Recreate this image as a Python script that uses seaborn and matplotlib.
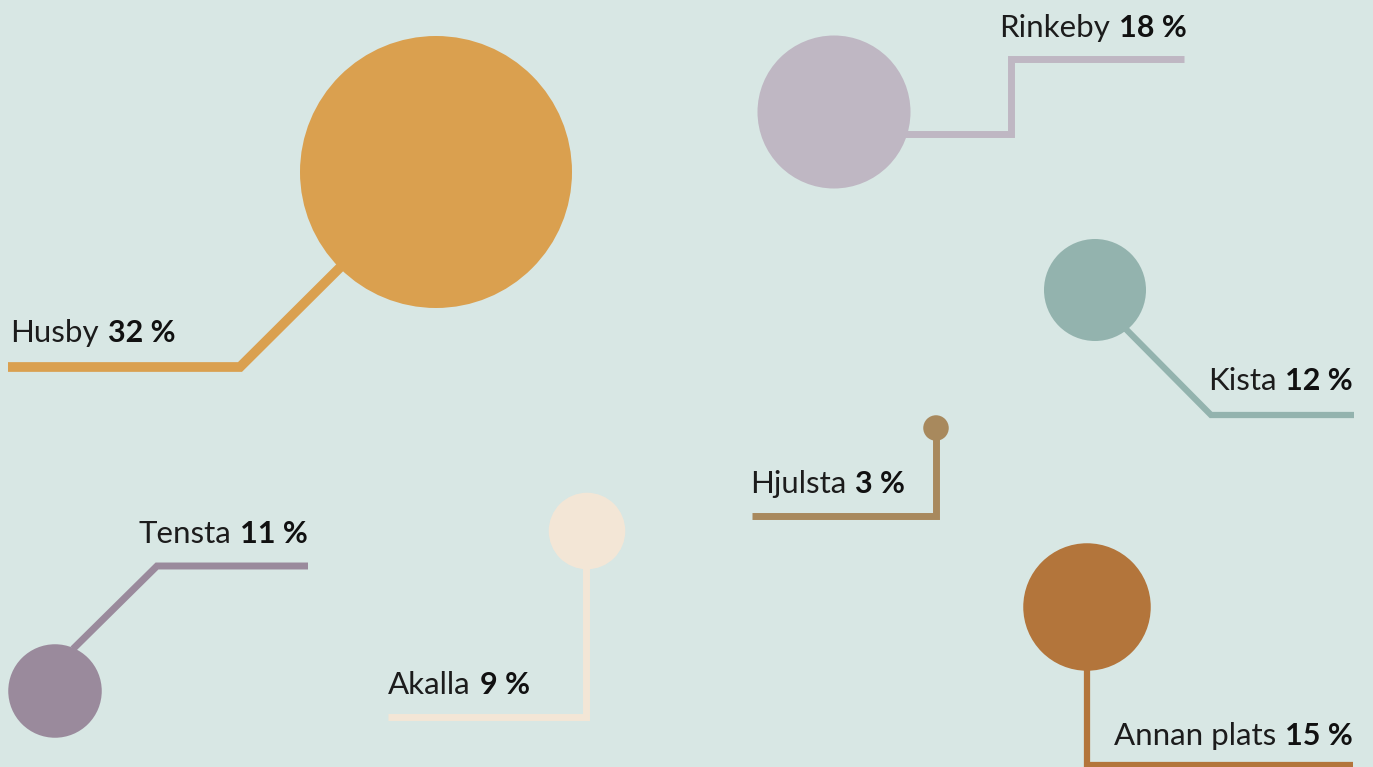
import pandas as pd
import seaborn as sns
import matplotlib.pyplot as plt

# share of respondents per area (%)
areas = ['Husby', 'Rinkeby', 'Kista', 'Hjulsta', 'Tensta', 'Akalla', 'Annan plats']
shares = [32, 18, 12, 3, 11, 9, 15]
colors = ['#DAA04F', '#BFB7C3', '#93B3AE', '#A8895D', '#9A8A9C', '#F3E6D6', '#B3753B']

# layout (pixel coordinates of the canvas, y down)
cx = [436, 834, 1095, 936, 55, 587, 1087]
cy = [172, 112, 290, 428, 691, 531, 607]
# (anchor side, x, baseline y)
label_pos = [('left', 10, 342), ('right', 1187, 37), ('right', 1353, 390), ('left', 750, 493),
             ('right', 308, 543), ('left', 388, 694), ('right', 1353, 745)]
leaders = [
    [(436, 172), (240, 367), (8, 367)],
    [(880, 134), (1011, 134), (1011, 59), (1184, 59)],
    [(1105, 308), (1211, 415), (1354, 415)],
    [(936, 428), (936, 516), (752, 516)],
    [(73, 649), (157, 566), (308, 566)],
    [(586, 531), (586, 717), (388, 717)],
    [(1087, 607), (1087, 765), (1353, 765)],
]
leader_w = [7, 5, 4.5, 5, 5, 5, 4.5]

W, H, DPI = 1373, 767, 100
PX_PER_PCT = 4.25  # bubble radius in px per percent
GAP = 9

df = pd.DataFrame({'area': areas, 'share': shares, 'x': cx, 'y': cy})
# marker area in pt^2 so that the diameter is 2*r px
sizes = {a: (2 * PX_PER_PCT * v * 72 / DPI) ** 2 for a, v in zip(areas, shares)}

sns.set_theme(style='white', rc={'axes.facecolor': '#D8E7E4', 'figure.facecolor': '#D8E7E4'})
plt.rcParams['font.family'] = ['Lato', 'DejaVu Sans']

fig = plt.figure(figsize=(W / DPI, H / DPI), dpi=DPI)
ax = fig.add_axes([0, 0, 1, 1])

for pts, c, lw in zip(leaders, colors, leader_w):
    ax.plot([p[0] for p in pts], [p[1] for p in pts], color=c, lw=lw,
            solid_joinstyle='miter', solid_capstyle='butt', zorder=1)

sns.scatterplot(data=df, x='x', y='y', hue='area', palette=dict(zip(areas, colors)),
                size='area', sizes=sizes, linewidth=0, legend=False, ax=ax, zorder=3)

ax.set_xlim(0, W)
ax.set_ylim(H, 0)
ax.set_axis_off()

fig.canvas.draw()
renderer = fig.canvas.get_renderer()
name_kw = dict(fontsize=22.5, fontweight='normal', color='#1c1c1c', va='baseline', zorder=4)
pct_kw = dict(fontsize=22, fontweight='bold', color='#111111', va='baseline', zorder=4)
for a, v, (side, lx, ly) in zip(areas, shares, label_pos):
    if side == 'left':
        t = ax.text(lx, ly, a, ha='left', **name_kw)
        w = t.get_window_extent(renderer).width
        ax.text(lx + w + GAP, ly, f'{v} %', ha='left', **pct_kw)
    else:
        t = ax.text(lx, ly, f'{v} %', ha='right', **pct_kw)
        w = t.get_window_extent(renderer).width
        ax.text(lx - w - GAP, ly, a, ha='right', **name_kw)

fig.savefig('out.png', dpi=DPI, facecolor=fig.get_facecolor())
